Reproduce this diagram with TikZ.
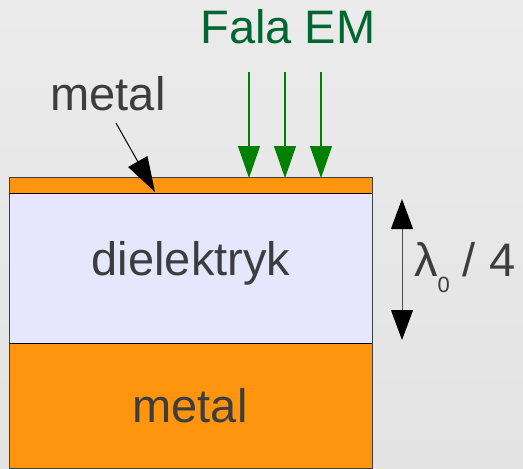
\documentclass[tikz,border=0pt]{standalone}
\usepackage{fontspec}
\setmainfont{Liberation Sans}
\usetikzlibrary{arrows.meta}
\definecolor{metalorange}{HTML}{FF950E}
\definecolor{dielblue}{HTML}{E6E6FF}
\definecolor{textgray}{HTML}{3D3D3D}
\definecolor{wavegreen}{HTML}{008000}
\definecolor{titlegreen}{HTML}{00662F}
\tikzset{
  label text/.style={text=textgray,inner sep=0pt,font=\fontsize{47}{56}\selectfont},
  wave arrow/.style={wavegreen,line width=1.1pt,-{Triangle[length=32pt,width=22pt]}},
}
\begin{document}
\begin{tikzpicture}[x=1pt,y=-1pt]
        \useasboundingbox (0,0) rectangle (523,469);
        \shade[top color={rgb,255:red,235;green,235;blue,235},bottom color={rgb,255:red,227;green,227;blue,227}] (0,0) rectangle (523,469);
        % layers
        \fill[metalorange] (9,177) rectangle (372,193);
        \fill[dielblue] (9,193) rectangle (372,343);
        \fill[metalorange] (9,343) rectangle (372,468);
        \draw[black!75,line width=1pt] (9,177) rectangle (372,468);
        \draw[black,line width=1pt] (9,193) -- (372,193);
        \draw[black,line width=1pt] (9,343) -- (372,343);
        % labels
        \node[label text,anchor=base] (top metal) at (108,110) {metal};
        \node[label text,anchor=base] (diel) at (191,275) {dielektryk};
        \node[label text,anchor=base] (bottom metal) at (190,422) {metal};
        \node[label text,text=titlegreen,anchor=base] (wave) at (288,43) {Fala EM};
        \node[label text,anchor=base west] (quarter) at (414,276) {λ\raisebox{-16pt}{\fontsize{22}{22}\selectfont 0} / 4};
        % arrows
        \coordinate (pointer start) at (116,123);
        \coordinate (pointer end) at (155,192);
        \draw[black,line width=1pt,-{Triangle[length=35pt,width=22pt]}] (pointer start) -- (pointer end);
        \foreach \x [count=\i] in {249,285,321} {
          \coordinate (w\i a) at (\x,72);
          \coordinate (w\i b) at (\x,178);
          \draw[wave arrow] (w\i a) -- (w\i b);
        }
        \coordinate (gap top) at (402,199);
        \coordinate (gap bottom) at (402,340);
        \draw[black!70,line width=1pt,{Triangle[length=30pt,width=22pt,black]}-{Triangle[length=30pt,width=22pt,black]}] (gap top) -- (gap bottom);
      \end{tikzpicture}
\end{document}
